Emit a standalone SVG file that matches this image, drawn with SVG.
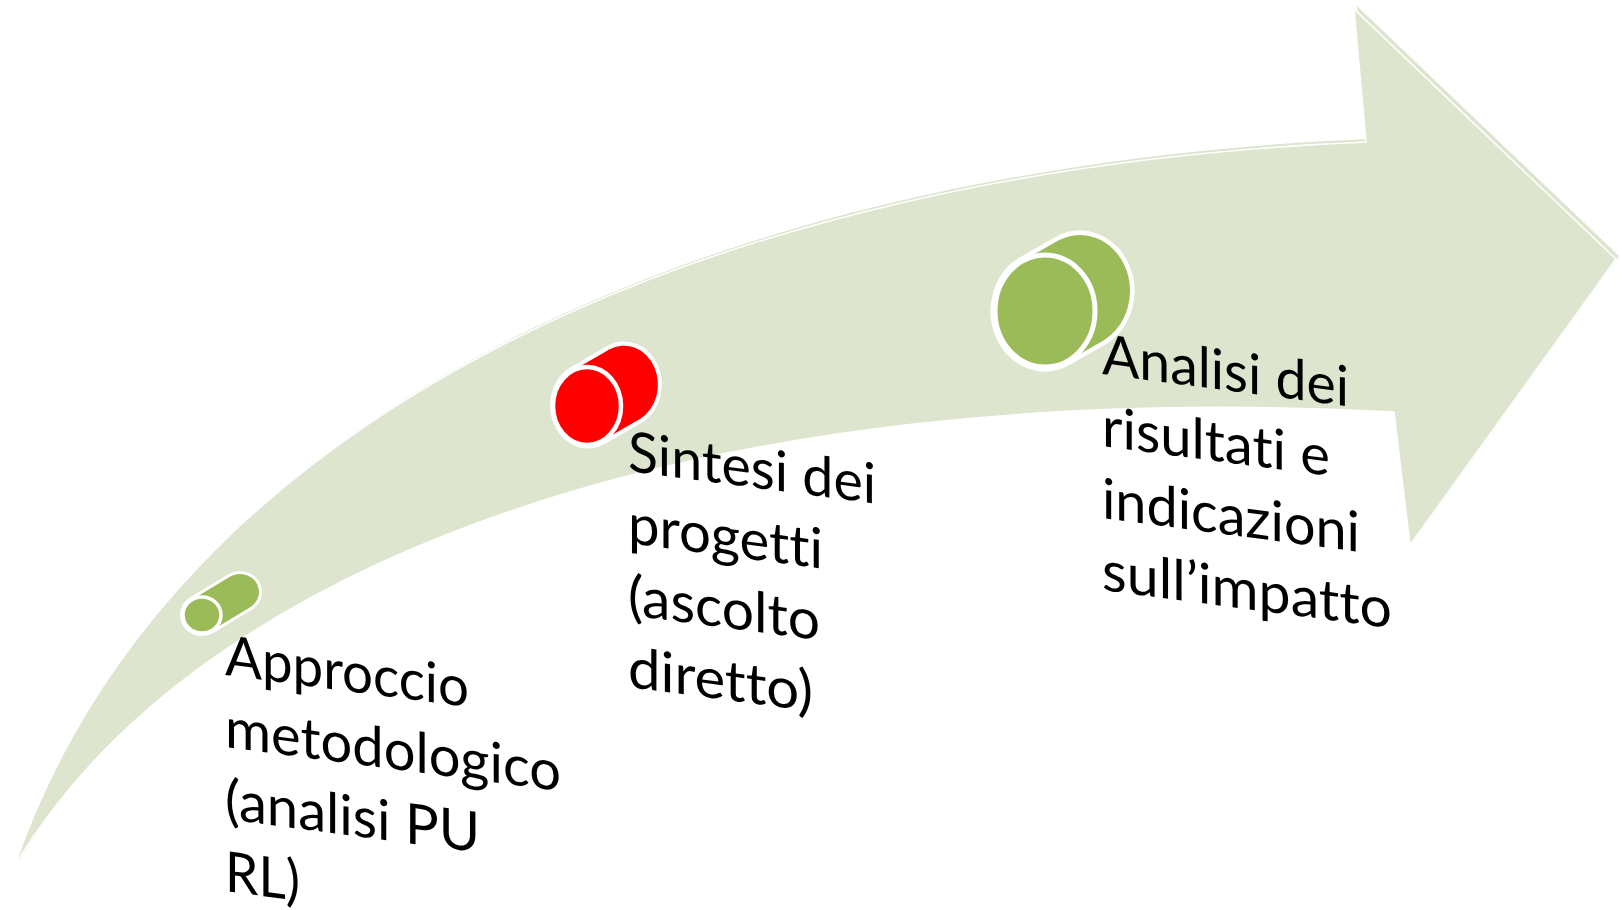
<svg xmlns="http://www.w3.org/2000/svg" width="1622" height="910" viewBox="0 0 1622 910">
<style>
.arrow{fill:#DDE5CE}
.halo{fill:#ffffff;stroke:#ffffff;stroke-linejoin:round}
.green{fill:#9BBB59}
.red{fill:#FF0000}
.front{stroke:#ffffff}
.lbl{font-family:Lato,"Open Sans","Liberation Sans",sans-serif;font-size:56px;fill:#000000;font-variant-ligatures:none;font-feature-settings:"liga" 0,"clig" 0}
</style>
<rect width="1622" height="910" fill="#ffffff"/>
<g id="arrow">
<path class="arrow" transform="translate(3,-3)" d="M16,862 C170,420 700,170 1366,142 L1354,9 L1616,259 L1410,545 L1394,412 C700,375 200,560 17,862 Z"/>
<path class="arrow" stroke="#ffffff" stroke-width="1.5" d="M16,862 C170,420 700,170 1366,142 L1354,9 L1616,259 L1410,545 L1394,412 C700,375 200,560 17,862 Z"/>
</g>
<g id="node1">
<path class="halo" stroke-width="6" d="M191.8,599.8 L229.8,576.8 A19 18 0 0 1 250.2,607.2 L212.2,630.2 A19 18 0 0 1 191.8,599.8 Z"/>
<path class="green" d="M191.8,599.8 L229.8,576.8 A19 18 0 0 1 250.2,607.2 L212.2,630.2 A19 18 0 0 1 191.8,599.8 Z"/>
<ellipse class="green front" stroke-width="3.5" cx="202" cy="615" rx="19" ry="18"/>
<text class="lbl" transform="translate(225,675) skewY(7.5)"><tspan x="0" y="0" textLength="244" lengthAdjust="spacingAndGlyphs">Approccio</tspan><tspan x="0" y="72" textLength="336" lengthAdjust="spacingAndGlyphs">metodologico</tspan><tspan x="0" y="144" textLength="255" lengthAdjust="spacingAndGlyphs">(analisi PU</tspan><tspan x="0" y="216" textLength="75" lengthAdjust="spacingAndGlyphs">RL)</tspan></text>
</g>
<g id="node2">
<path class="halo" stroke-width="8" d="M571.7,371.2 L609.7,349.2 A34 39 0 0 1 640.3,418.8 L602.3,440.8 A34 39 0 0 1 571.7,371.2 Z"/>
<path class="red" d="M571.7,371.2 L609.7,349.2 A34 39 0 0 1 640.3,418.8 L602.3,440.8 A34 39 0 0 1 571.7,371.2 Z"/>
<ellipse class="red front" stroke-width="4.5" cx="587" cy="406" rx="34" ry="39"/>
<text class="lbl" transform="translate(628,471) skewY(7.5)"><tspan x="0" y="0" textLength="248" lengthAdjust="spacingAndGlyphs">Sintesi dei</tspan><tspan x="0" y="72" textLength="195" lengthAdjust="spacingAndGlyphs">progetti</tspan><tspan x="0" y="144" textLength="192" lengthAdjust="spacingAndGlyphs">(ascolto</tspan><tspan x="0" y="216" textLength="185" lengthAdjust="spacingAndGlyphs">diretto)</tspan></text>
</g>
<g id="node3">
<path class="halo" stroke-width="9" d="M1022.3,261.1 L1057.3,241.1 A50 56 0 0 1 1102.7,340.9 L1067.7,360.9 A50 56 0 0 1 1022.3,261.1 Z"/>
<path class="green" d="M1022.3,261.1 L1057.3,241.1 A50 56 0 0 1 1102.7,340.9 L1067.7,360.9 A50 56 0 0 1 1022.3,261.1 Z"/>
<ellipse class="green front" stroke-width="5" cx="1045" cy="311" rx="50" ry="56"/>
<text class="lbl" transform="translate(1102,374) skewY(7.5)"><tspan x="0" y="0" textLength="247" lengthAdjust="spacingAndGlyphs">Analisi dei</tspan><tspan x="0" y="72" textLength="228" lengthAdjust="spacingAndGlyphs">risultati e</tspan><tspan x="0" y="144" textLength="258" lengthAdjust="spacingAndGlyphs">indicazioni</tspan><tspan x="0" y="216" textLength="290" lengthAdjust="spacingAndGlyphs">sull’impatto</tspan></text>
</g>
<g id="connectors"></g>
</svg>
